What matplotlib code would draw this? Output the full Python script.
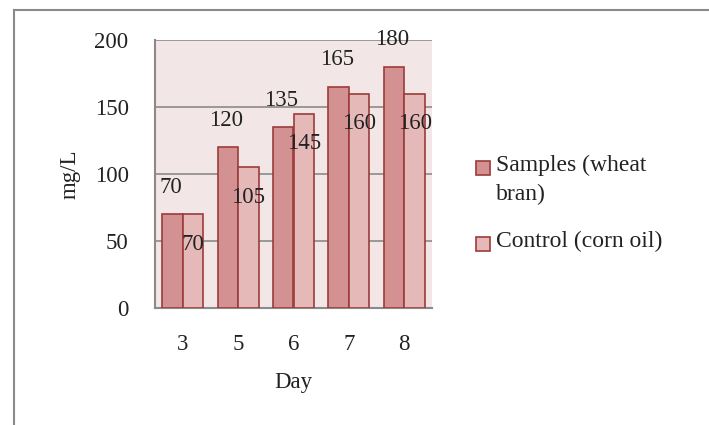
import matplotlib
matplotlib.use("Agg")
import matplotlib.pyplot as plt
from matplotlib.lines import Line2D
from matplotlib.patches import Rectangle
import numpy as np

days = ["3", "5", "6", "7", "8"]
samples = [70, 120, 135, 165, 180]
control = [70, 105, 145, 160, 160]
series_names = ["Samples (wheat\nbran)", "Control (corn oil)"]

plt.rcParams["font.family"] = ["Liberation Serif", "DejaVu Serif"]
FS = 16.5
INK = "#222222"
EDGE = "#9c3b3b"
FILLS = ["#d49191", "#e6b9b9"]

W, H = 709, 425
fig = plt.figure(figsize=(W / 100, H / 100), dpi=100)
# plot area in pixel coordinates
left, right, top, bottom = 155, 432, 40, 308
ax = fig.add_axes([left / W, 1 - bottom / H, (right - left) / W, (bottom - top) / H])
ax.set_facecolor("#f3e6e6")

x = np.arange(len(days))
w = 0.37
ax.bar(x - w / 2, samples, w, color=FILLS[0], edgecolor=EDGE, linewidth=1.2, zorder=3)
ax.bar(x + w / 2, control, w, color=FILLS[1], edgecolor=EDGE, linewidth=1.2, zorder=3)

for xi, v in zip(x, samples):
    ax.annotate(str(v), (xi - w / 2, v), xytext=(-2, 27), textcoords="offset pixels",
                ha="center", va="center", fontsize=FS, color=INK, zorder=5)
for xi, v in zip(x, control):
    ax.annotate(str(v), (xi + w / 2, v), xytext=(0, -30), textcoords="offset pixels",
                ha="center", va="center", fontsize=FS, color=INK, zorder=5)

ax.set_xlim(-0.5, len(days) - 0.5)
ax.set_ylim(0, 200)
ax.set_yticks([0, 50, 100, 150, 200])
ax.set_xticks(x)
ax.set_xticklabels(days)
ax.yaxis.grid(True, color="#8a8a8a", linewidth=1.2, zorder=0)
ax.set_axisbelow(True)
for s in ["top", "right"]:
    ax.spines[s].set_visible(False)
for s in ["left", "bottom"]:
    ax.spines[s].set_color("#8a8a8a")
    ax.spines[s].set_linewidth(1.5)
ax.tick_params(length=0, labelsize=FS, colors=INK)
ax.tick_params(axis="y", pad=19)
ax.tick_params(axis="x", pad=19)
ax.set_ylabel("mg/L", fontsize=FS, color=INK, labelpad=10)
ax.set_xlabel("Day", fontsize=FS, color=INK, labelpad=12)

# legend drawn by hand so each marker sits on the first line of its label
legend_rows = [168, 244]
for name, fill, yc in zip(series_names, FILLS, legend_rows):
    fig.add_artist(Rectangle((476 / W, 1 - (yc + 7) / H), 14 / W, 14 / H,
                             facecolor=fill, edgecolor=EDGE, linewidth=1.2,
                             transform=fig.transFigure))
    fig.text(496 / W, 1 - (yc - 13) / H, name, fontsize=17, color=INK,
             ha="left", va="top", linespacing=1.45)

# outer chart frame
fig.add_artist(Line2D([14 / W, 14 / W], [0, 1 - 10 / H], color="#8a8a8a", linewidth=1.5))
fig.add_artist(Line2D([14 / W, 1], [1 - 10 / H, 1 - 10 / H], color="#8a8a8a", linewidth=1.5))

fig.savefig("out.png", dpi=100)
